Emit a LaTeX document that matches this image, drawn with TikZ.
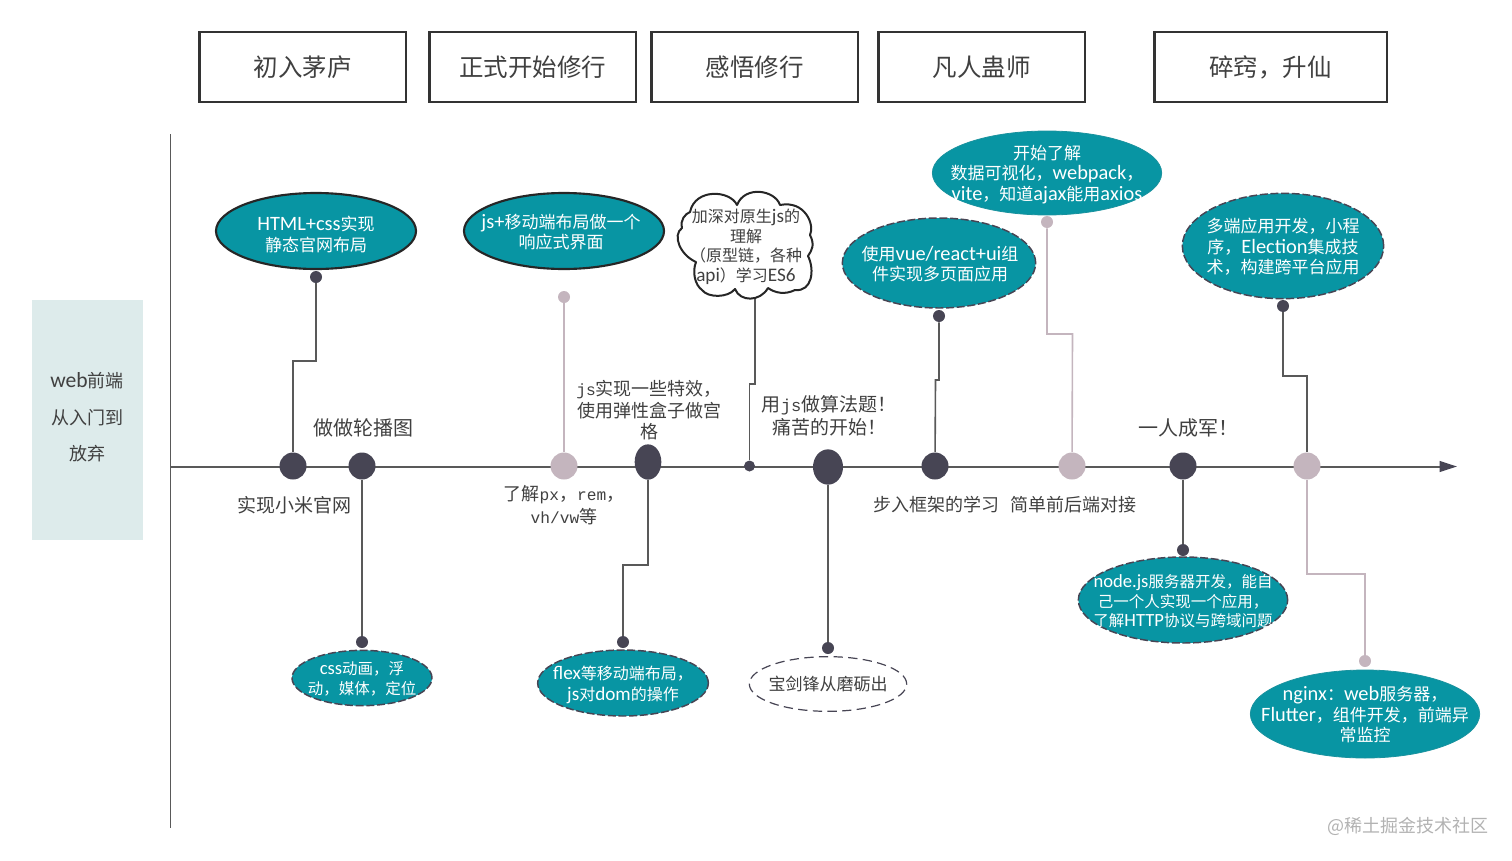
\documentclass[tikz,border=0pt]{standalone}
\usepackage{fontspec}
\setmainfont{Noto Sans CJK SC}
\newfontfamily\lat[Scale=1.2]{Carlito}
\newfontfamily\mon[Scale=0.9]{Liberation Mono}
\usetikzlibrary{shapes.geometric,arrows.meta}
\definecolor{teal1}{HTML}{0895A3}
\definecolor{darkdot}{HTML}{474554}
\definecolor{pinkdot}{HTML}{C4B5BE}
\definecolor{linegray}{HTML}{595959}
\definecolor{txtgray}{HTML}{404040}
\definecolor{sidebg}{HTML}{DDEBEB}
\newcommand{\pf}[2]{\fontsize{\dimexpr #1pt*3/4\relax}{\dimexpr #2pt*3/4\relax}\selectfont}
\newcommand{\zhc}{\char"FF0C\relax}
\newcommand{\zhcol}{\char"FF1A\relax}
\newcommand{\zhl}{\char"FF08\relax}
\newcommand{\zhr}{\char"FF09\relax}
\newcommand{\zhe}{\char"FF01\relax}
\tikzset{
  x=0.75pt,y=-0.75pt,
  topbox/.style={draw=black!80,line width=2pt,fill=white,minimum height=52.5pt,text=txtgray,font=\pf{24.5}{32},inner sep=0},
  blob/.style={ellipse,draw,fill=teal1,inner sep=0},
  solidb/.style={blob,draw=black!85,line width=1.6pt},
  dashb/.style={blob,draw=darkdot,line width=1.1pt,dash pattern=on 6pt off 2pt},
  plainb/.style={blob,draw=teal1!85!gray,line width=.6pt},
  whiteb/.style={ellipse,draw=darkdot,fill=white,line width=.9pt,dash pattern=on 7pt off 4pt,inner sep=0},
  wt/.style={text=white,align=center,inner sep=0,font=\pf{#1}{20.5}},
  lb/.style={text=txtgray,align=center,inner sep=0,font=\pf{#1}{22}},
  dk/.style={circle,fill=darkdot,inner sep=0,minimum size=#1*0.75pt},
  pk/.style={circle,fill=pinkdot,inner sep=0,minimum size=#1*0.75pt},
  dkl/.style={draw=linegray,line width=1.2pt},
  pkl/.style={draw=pinkdot,line width=1.2pt},
}
\begin{document}
\begin{tikzpicture}
\useasboundingbox (0,0) rectangle (1512,860);
% top boxes
\node[topbox,minimum width=155pt] (b1) at (302.5,67) {初入茅庐};
\node[topbox,minimum width=155pt] (b2) at (532.5,67) {正式开始修行};
\node[topbox,minimum width=155pt] (b3) at (754.5,67) {感悟修行};
\node[topbox,minimum width=155pt] (b4) at (981.5,67) {凡人蛊师};
\node[topbox,minimum width=174.5pt] (b5) at (1270.5,67) {碎窍\zhc 升仙};
% side panel
\node[fill=sidebg,minimum width=83pt,minimum height=180pt,inner sep=0] (side) at (87.5,420) {};
\node[lb=18] (s1) at (87,381) {{\lat web}前端};
\node[lb=18] (s2) at (87,418) {从入门到};
\node[lb=18] (s3) at (87,454) {放弃};
% axes
\coordinate (axL) at (171,466.5);
\coordinate (axR) at (1457,466.5);
\coordinate (vT) at (170.5,134);
\coordinate (vB) at (170.5,828);
\draw[dkl,line width=1.3pt] (vT) -- (vB);
\draw[dkl,line width=1.5pt,-{Stealth[length=13pt,width=8pt,inset=0pt,color=darkdot]}] (axL) -- (axR);
% axis dots
\node[dk=27] (a1) at (293,466) {};
\node[dk=27] (a2) at (362,466) {};
\node[pk=27] (a3) at (564,466) {};
\node[ellipse,fill=darkdot,inner sep=0,minimum width=20pt,minimum height=26.5pt] (a4) at (648,462) {};
\node[dk=11] (a5) at (749.5,466) {};
\node[ellipse,fill=darkdot,inner sep=0,minimum width=22.5pt,minimum height=26.5pt] (a6) at (828,467) {};
\node[dk=27] (a7) at (935,466) {};
\node[pk=27] (a8) at (1072,466) {};
\node[dk=27] (a9) at (1183,466) {};
\node[pk=27] (a10) at (1307,466) {};
% ellipses
\node[solidb,minimum width=150pt,minimum height=57pt] (e1) at (316,231) {};
\node[solidb,minimum width=150pt,minimum height=57pt] (e2) at (564,231) {};
\draw[draw=black!85,fill=white,line width=1.5pt,line join=round] (690,212)
  .. controls (695,188) and (730,190) .. (737,205)
  .. controls (745,185) and (775,190) .. (780,205)
  .. controls (805,200) and (815,225) .. (810,235)
  .. controls (815,245) and (812,250) .. (808,256)
  .. controls (815,270) and (812,292) .. (795,290)
  .. controls (785,295) and (775,293) .. (768,288)
  .. controls (760,302) and (740,302) .. (735,289)
  .. controls (728,298) and (708,298) .. (702,290)
  .. controls (695,285) and (692,272) .. (696,262)
  .. controls (680,255) and (672,235) .. (682,228)
  .. controls (680,220) and (685,214) .. (690,212) -- cycle;
\node[dashb,minimum width=145pt,minimum height=67.5pt] (e4) at (939,263) {};
\node[plainb,minimum width=172pt,minimum height=63pt] (e5) at (1047,173) {};
\node[dashb,minimum width=151pt,minimum height=79pt] (e6) at (1283,246) {};
\node[dashb,minimum width=105pt,minimum height=41.5pt] (e7) at (362,678) {};
\node[dashb,minimum width=128pt,minimum height=49.5pt] (e8) at (623,683) {};
\node[whiteb,minimum width=118pt,minimum height=41pt] (e9) at (828,684) {};
\node[dashb,minimum width=157pt,minimum height=64.5pt] (e10) at (1183,600) {};
\node[plainb,minimum width=172pt,minimum height=66pt] (e11) at (1365,714) {};
% end dots
\node[dk=12] (t1) at (316,277) {};
\node[pk=12] (t3) at (564,297) {};
\node[dk=12] (t7) at (939,316) {};
\node[pk=12] (t8) at (1047,222) {};
\node[dk=12] (t10) at (1283,306) {};
\node[dk=12] (t2) at (362,642) {};
\node[dk=12] (t4) at (623,642) {};
\node[dk=12] (t6) at (828,648) {};
\node[dk=12] (t9) at (1183,550) {};
\node[pk=12] (t11) at (1365,661) {};
% connector bends
\coordinate (k1) at (293,361);
\coordinate (k4) at (648,565);
\coordinate (k5) at (749.5,384);
\coordinate (k5b) at (755,299);
\coordinate (k7) at (935.5,380);
\coordinate (k8) at (1072.5,334);
\coordinate (k10) at (1307,376);
\coordinate (k11) at (1307,574);
\draw[dkl] (a1) -- (k1) -- (k1 -| t1) -- (t1);
\draw[dkl] (a2) -- (t2);
\draw[pkl] (a3) -- (t3);
\draw[dkl] (a4) -- (k4) -- (k4 -| t4) -- (t4);
\draw[dkl] (a5) -- (k5) -- (k5 -| k5b) -- (k5b);
\draw[dkl] (a6) -- (t6);
\draw[dkl] (a7) -- (k7) -- (k7 -| t7) -- (t7);
\draw[pkl] (a8) -- (k8) -- (k8 -| t8) -- (t8);
\draw[dkl] (a9) -- (t9);
\draw[dkl] (a10) -- (k10) -- (k10 -| t10) -- (t10);
\draw[pkl] (a10) -- (k11) -- (k11 -| t11) -- (t11);
% texts in shapes
\node[wt=17] (x1) at (316,234.5) {{\lat HTML+css}实现\\静态官网布局};
\node[wt=17] (x2) at (561,232) {{\lat js+}移动端布局做一个\\响应式界面};
\node[lb=16,font=\pf{16}{19.5}] (x3) at (746,247) {加深对原生{\lat js}的\\理解\\\zhl 原型链\zhc 各种\\{\lat api}\zhr 学习{\lat ES6}};
\node[wt=17] (x4) at (940,264) {使用{\lat vue/react+ui}组\\件实现多页面应用};
\node[wt=17] (x5) at (1047,174.5) {开始了解\\数据可视化\zhc{\lat webpack}\zhc\\{\lat vite}\zhc 知道{\lat ajax}能用{\lat axios}};
\node[wt=17] (x6) at (1283,247) {多端应用开发\zhc 小程\\序\zhc{\lat Election}集成技\\术\zhc 构建跨平台应用};
\node[wt=15.5,font=\pf{15.5}{19.5}] (x7) at (362,679) {{\lat css}动画\zhc 浮\\动\zhc 媒体\zhc 定位};
\node[wt=16] (x8) at (623,685) {{\lat flex}等移动端布局\zhc\\{\lat js}对{\lat dom}的操作};
\node[lb=17] (x9) at (828,684) {宝剑锋从磨砺出};
\node[wt=15.5,font=\pf{15.5}{19.5}] (x10) at (1183,601.5) {{\lat node.js}服务器开发\zhc 能自\\己一个人实现一个应用\zhc\\了解{\lat HTTP}协议与跨域问题};
\node[wt=17] (x11) at (1365,715) {{\lat nginx}\zhcol{\lat web}服务器\zhc\\{\lat Flutter}\zhc 组件开发\zhc 前端异\\常监控};
% free labels
\node[lb=20] (l1) at (363,428) {做做轮播图};
\node[lb=19] (l2) at (294,505) {实现小米官网};
\node[lb=18,font=\pf{18}{21.5}] (l3) at (649,410.5) {{\mon js}实现一些特效\zhc\\使用弹性盒子做宫\\格};
\node[lb=18,font=\pf{18}{23}] (l4) at (564,505) {了解{\mon px}\zhc{\mon rem}\zhc\\{\mon vh/vw}等};
\node[lb=19,font=\pf{19}{23}] (l5) at (829,415.5) {用{\mon js}做算法题\zhe\\痛苦的开始\zhe};
\node[lb=18] (l6) at (936,505) {步入框架的学习};
\node[lb=18] (l7) at (1073,505) {简单前后端对接};
\node[lb=20] (l8) at (1188,428) {一人成军\zhe};
\node[text=black!30,inner sep=0,font=\pf{18}{20},anchor=east] (wm) at (1489,826) {@稀土掘金技术社区};
\end{tikzpicture}
\end{document}
